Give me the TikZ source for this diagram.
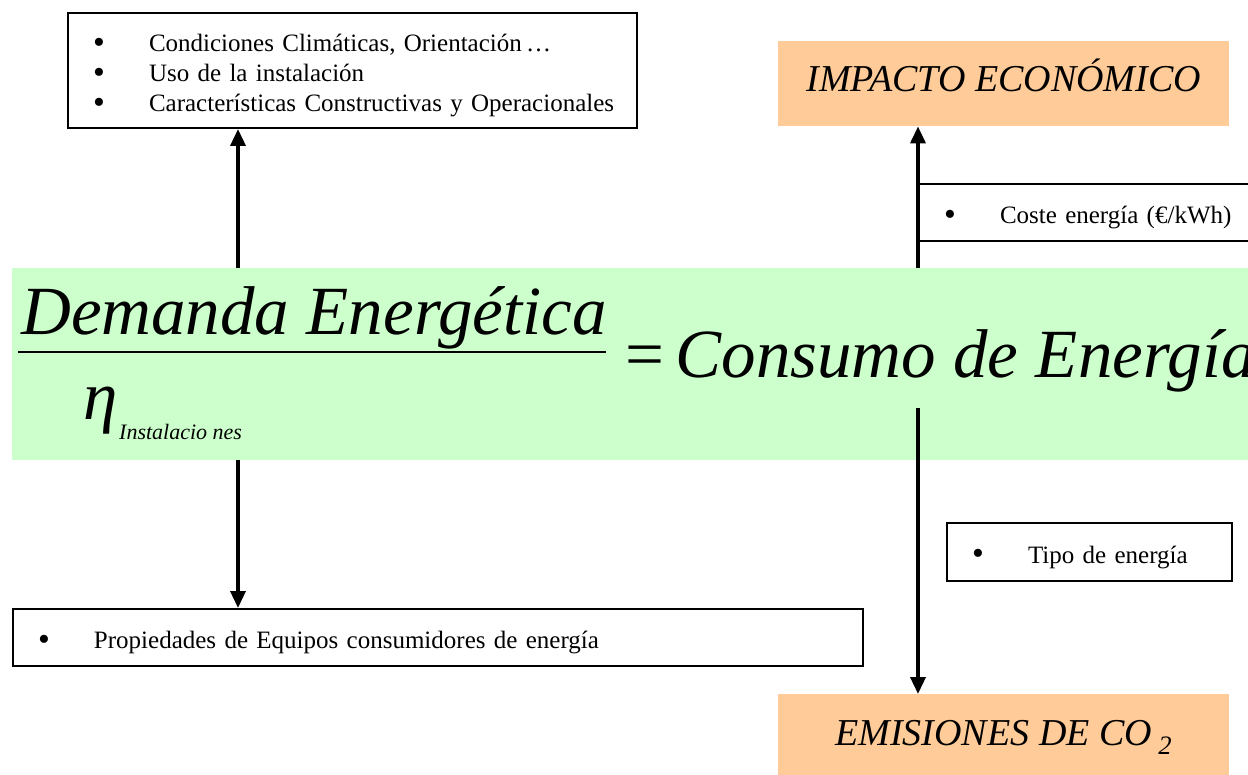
\documentclass[tikz,border=0pt]{standalone}
\usepackage{fontspec}
\setmainfont{Liberation Serif}
\usetikzlibrary{arrows.meta,positioning}
\definecolor{verde}{HTML}{CCFFCC}
\definecolor{naranja}{HTML}{FFCC99}
\newcommand{\bul}[1]{\hspace*{10pt}\rule[-5pt]{0pt}{33pt}\makebox[56pt][l]{\raisebox{-1.5pt}[0pt][0pt]{\scalebox{1.35}{\textbullet}}}#1}
\DeclareRobustCommand{\letracaja}{\fontsize{25}{30}\selectfont\lineskiplimit=-10pt\relax}

\begin{document}
\begin{tikzpicture}[x=1pt,y=-1pt,
  caja/.style={draw,line width=2pt,inner xsep=15pt,inner ysep=0pt,align=left,
    font=\letracaja},
  impacto/.style={fill=naranja,minimum width=451pt,minimum height=85pt,
    font=\fontsize{38}{44}\selectfont\itshape},
  flecha/.style={line width=3.5pt,-{Triangle[width=15pt,length=17pt]}},
  formula/.style={anchor=base west,inner sep=0pt,font=\fontsize{69}{72}\selectfont\itshape}]
  \useasboundingbox (0,0) rectangle (1248,775);
  \clip (0,0) rectangle (1248,775);

  % banda de la formula
  \node[fill=verde,minimum width=1260pt,minimum height=192pt,inner sep=0pt,
    anchor=north west] (band) at (12,268) {};
  \node[formula] (num) at (21,335) {Demanda Energética};
  \node[formula] (eta) at (83,420) {η};
  \node[formula,font=\fontsize{22}{24}\selectfont\itshape] (sub) at (119,440) {Instalacio nes};
  \node[formula] (cons) at (625,378) {{\upshape=}\,Consumo de Energía};
  \draw[line width=2pt] (18,352) -- (606,352);

  % cajas
  \node[caja,text width=539pt,minimum height=115pt,anchor=north west] (factores) at (67,12)
    {\bul{Condiciones Climáticas, Orientación\,…}\\
     \bul{Uso de la instalación}\\
     \bul{Características Constructivas y Operacionales}};
  \node[caja,text width=820pt,minimum height=57pt,anchor=north west] (equipos) at (12,608)
    {\bul{Propiedades de Equipos consumidores de energía}};
  \node[caja,text width=320pt,minimum height=57pt,anchor=north west] (coste) at (918,183)
    {\bul{Coste energía (€/kWh)}};
  \node[caja,text width=255pt,minimum height=58pt,anchor=north west] (tipo) at (946,522)
    {\bul{Tipo de energía}};

  \node[impacto,text height=26pt,text depth=11pt,anchor=north west] (impacto) at (778,41)
    {IMPACTO ECONÓMICO};
  \node[impacto,minimum height=84pt,text height=26pt,text depth=8pt,anchor=north west]
    (emisiones) at (778,694) {EMISIONES DE CO\,\textsubscript{2}};

  % flechas
  \coordinate (izq) at (238,0);
  \coordinate (der) at (918,0);
  \coordinate (salida) at (918,408);
  \draw[flecha] (band.north -| izq) -- (factores.south -| izq);
  \draw[flecha] (band.south -| izq) -- (equipos.north -| izq);
  \draw[flecha] (band.north -| der) -- (impacto.south -| der);
  \draw[flecha] (salida) -- (emisiones.north -| salida);
\end{tikzpicture}
\end{document}
